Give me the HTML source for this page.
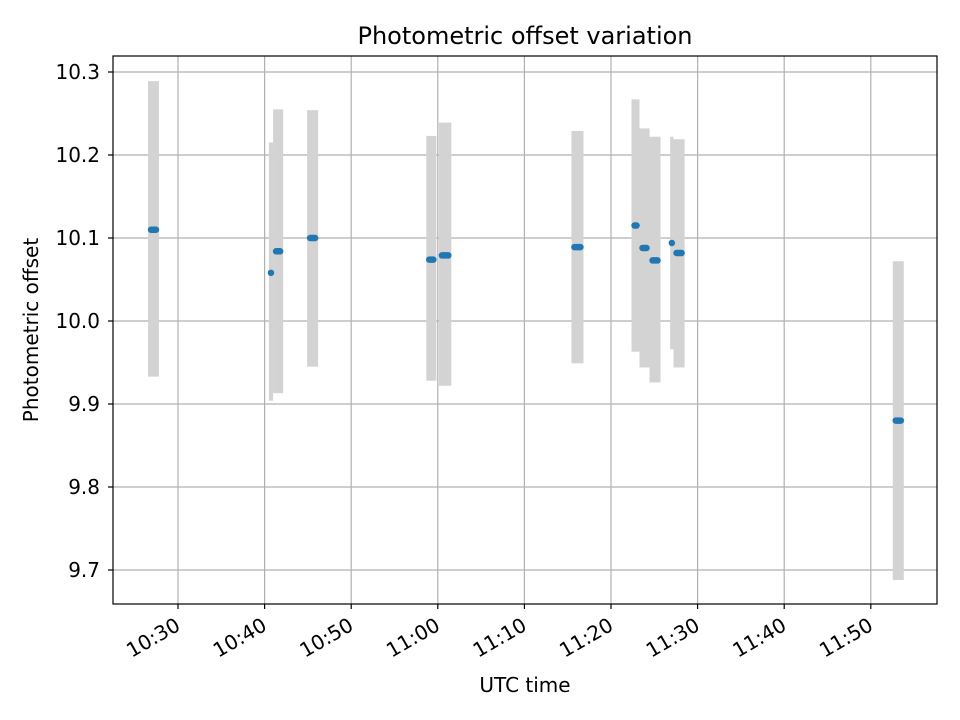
<!DOCTYPE html>
<html><head><meta charset="utf-8"><style>
body{margin:0;background:#fff;}
svg{display:block;font-family:"DejaVu Sans","Liberation Sans",sans-serif;}
</style></head><body>
<svg id="chart" width="960" height="720" viewBox="0 0 960 720">
<rect width="960" height="720" fill="#fff"/>
<text x="525" y="44" font-size="24" text-anchor="middle">Photometric offset variation</text>
<g id="grid"></g>
<g id="bands"></g>
<g id="marks"></g>
<rect x="113" y="56" width="824" height="548" fill="none" stroke="#000" stroke-width="1.2"/>
<g id="ticks"></g>
<text x="525" y="692" font-size="20" text-anchor="middle">UTC time</text>
<text transform="translate(38,330) rotate(-90)" font-size="20" text-anchor="middle">Photometric offset</text>
</svg>
<script>
// minutes after 10:00
const segStart = [40.49,26.54,40.98,44.91,58.67,60.13,75.43,82.37,83.29,84.45,86.83,87.22,112.54];
const segEnd   = [40.98,27.80,42.14,46.18,59.83,61.56,76.82,83.29,84.45,85.72,87.22,88.50,113.81];
const segValue = [10.058,10.110,10.084,10.100,10.074,10.079,10.089,10.115,10.088,10.073,10.094,10.082,9.880];
const segLow   = [9.904,9.933,9.913,9.945,9.928,9.922,9.949,9.963,9.944,9.926,9.966,9.944,9.688];
const segHigh  = [10.215,10.289,10.255,10.254,10.223,10.239,10.229,10.267,10.232,10.222,10.222,10.219,10.072];
const xTickMinutes = [30,40,50,60,70,80,90,100,110];
const xTickLabels = ["10:30","10:40","10:50","11:00","11:10","11:20","11:30","11:40","11:50"];
const yTicks = [9.7,9.8,9.9,10.0,10.1,10.2,10.3];
const yTickLabels = ["9.7","9.8","9.9","10.0","10.1","10.2","10.3"];

const NS="http://www.w3.org/2000/svg";
const X = t => 178 + (t-30)*8.66;
const Y = v => 321 - (v-10)*830;
function mk(tag, attrs, parent){const e=document.createElementNS(NS,tag);for(const k in attrs)e.setAttribute(k,attrs[k]);document.getElementById(parent).appendChild(e);return e;}

xTickMinutes.forEach((m,i)=>{
  const x=X(m);
  const g=mk('line',{x1:x,x2:x,y1:56,y2:604,stroke:'#b0b0b0','stroke-width':1.2},'grid');
  
  
  const t=mk('line',{x1:x,x2:x,y1:604,y2:609,stroke:'#000','stroke-width':1.2},'ticks');
  
  
  const l=mk('text',{transform:`translate(${x-4},${616}) rotate(-30)`,'font-size':20,'text-anchor':'end','dominant-baseline':'hanging'},'ticks');
  l.textContent=xTickLabels[i];
  
  
});
yTicks.forEach((v,i)=>{
  const y=Y(v);
  const g=mk('line',{x1:113,x2:937,y1:y,y2:y,stroke:'#b0b0b0','stroke-width':1.2},'grid');
  
  
  const t=mk('line',{x1:108,x2:113,y1:y,y2:y,stroke:'#000','stroke-width':1.2},'ticks');
  
  
  const l=mk('text',{x:100,y:y+7,'font-size':20,'text-anchor':'end'},'ticks');
  l.textContent=yTickLabels[i];
  
  
});
segValue.forEach((v,i)=>{
  const x0=X(segStart[i]), x1=X(segEnd[i]);
  const r=mk('rect',{x:x0,y:Y(segHigh[i]),width:x1-x0,height:Y(segLow[i])-Y(segHigh[i]),fill:'#d3d3d3'},'bands');
  
  
  const a=Math.min(x0+3,(x0+x1)/2), b=Math.max(x1-3,(x0+x1)/2);
  const m=mk('line',{x1:a,x2:b,y1:Y(v),y2:Y(v),stroke:'#1f77b4','stroke-width':6.5,'stroke-linecap':'round'},'marks');
  
  
});
</script>
</body></html>
